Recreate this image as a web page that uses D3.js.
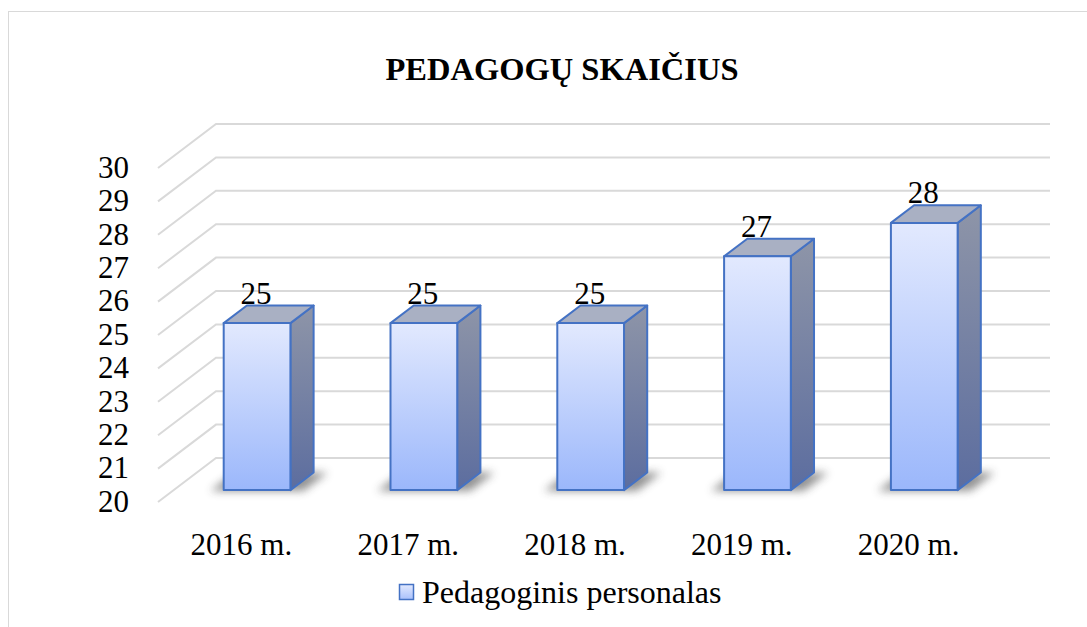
<!DOCTYPE html>
<html lang="lt">
<head>
  <meta charset="UTF-8">
  <title>Pedagogų skaičius</title>
  <style>
    body { margin: 0; background: #fff; }
  </style>
</head>
<body>
  <script src="https://cdnjs.cloudflare.com/ajax/libs/d3/7.8.5/d3.min.js"></script>
  <script>
    const title = "PEDAGOGŲ SKAIČIUS";
    const seriesName = "Pedagoginis personalas";
    const categories = ["2016 m.", "2017 m.", "2018 m.", "2019 m.", "2020 m."];
    const values = [25, 25, 25, 27, 28];
    const yTicks = [20, 21, 22, 23, 24, 25, 26, 27, 28, 29, 30];

    const width = 1087, height = 627;
    const svg = d3.select("body").append("svg")
      .attr("width", width)
      .attr("height", height)
      .attr("font-family", "'Liberation Serif', 'Times New Roman', Tinos, serif")
      .style("display", "block");

    // outer chart border (right/bottom fall outside the picture)
    svg.append("rect")
      .attr("x", 8.5).attr("y", 11.5)
      .attr("width", 1100).attr("height", 640)
      .attr("fill", "none").attr("stroke", "#d9d9d9");

    // front plane scales + oblique depth offset
    const x = d3.scaleBand().domain(categories).range([158, 992]);
    const y = d3.scaleLinear().domain([20, 30]).range([502, 168]);
    const depthX = 58, depthY = 44;
    const proj = (px, v, z) => [px + z * depthX, y(v) - z * depthY];

    const defs = svg.append("defs");
    const gFront = defs.append("linearGradient").attr("id", "gFront")
      .attr("x1", 0).attr("y1", 0).attr("x2", 0).attr("y2", 1);
    gFront.append("stop").attr("offset", "0%").attr("stop-color", "#e2e9fe");
    gFront.append("stop").attr("offset", "100%").attr("stop-color", "#9bb7fb");
    const gSide = defs.append("linearGradient").attr("id", "gSide")
      .attr("x1", 0).attr("y1", 0).attr("x2", 0).attr("y2", 1);
    gSide.append("stop").attr("offset", "0%").attr("stop-color", "#8e95a8");
    gSide.append("stop").attr("offset", "100%").attr("stop-color", "#5c6d9f");
    const gLegend = defs.append("linearGradient").attr("id", "gLegend")
      .attr("x1", 0).attr("y1", 0).attr("x2", 0).attr("y2", 1);
    gLegend.append("stop").attr("offset", "0%").attr("stop-color", "#e2e9fe");
    gLegend.append("stop").attr("offset", "100%").attr("stop-color", "#a9c0fb");
    defs.append("filter").attr("id", "blur")
      .attr("x", "-30%").attr("y", "-100%").attr("width", "160%").attr("height", "300%")
      .append("feGaussianBlur").attr("stdDeviation", 4);

    // title
    svg.append("text")
      .attr("x", 562).attr("y", 80)
      .attr("text-anchor", "middle")
      .attr("font-size", 32.5).attr("font-weight", "bold")
      .text(title);

    // gridlines: slanted side wall + back wall
    const grid = svg.append("g").attr("stroke", "#d9d9d9").attr("stroke-width", 2).attr("fill", "none");
    const x0 = x.range()[0], x1 = x.range()[1];
    grid.selectAll("path").data(yTicks).enter().append("path")
      .attr("d", t => {
        const a = proj(x0, t, 0), b = proj(x0, t, 1), c = proj(x1, t, 1);
        return `M${a}L${b}L${c}`;
      });

    // y axis labels
    svg.append("g").selectAll("text").data(yTicks).enter().append("text")
      .attr("x", 129).attr("y", t => y(t) - 1)
      .attr("dy", "0.35em")
      .attr("text-anchor", "end")
      .attr("font-size", 31)
      .text(t => t);

    const z0 = 0.27, z1 = 0.67;
    const bw = x.bandwidth() * 0.4;
    const poly = pts => "M" + pts.map(p => p.join(",")).join("L") + "Z";

    const bars = svg.append("g").selectAll("g").data(values).enter().append("g");

    // floor shadow
    bars.append("path")
      .attr("d", (v, i) => {
        const l = x(categories[i]) + x.bandwidth() / 2 - bw / 2 - 12, r = l + bw + 26;
        return poly([proj(l, 20, z0 - 0.02), proj(r, 20, z0 - 0.02), proj(r, 20, z1), proj(l, 20, z1)]);
      })
      .attr("fill", "#3a3a3a").attr("opacity", 0.55)
      .attr("filter", "url(#blur)");

    const edge = sel => sel.attr("stroke", "#4472c4").attr("stroke-width", 2).attr("stroke-linejoin", "round");

    // side face
    bars.append("path")
      .attr("d", (v, i) => {
        const r = x(categories[i]) + x.bandwidth() / 2 + bw / 2;
        return poly([proj(r, 20, z0), proj(r, v, z0), proj(r, v, z1), proj(r, 20, z1)]);
      })
      .attr("fill", "url(#gSide)").call(edge);

    // top face
    bars.append("path")
      .attr("d", (v, i) => {
        const l = x(categories[i]) + x.bandwidth() / 2 - bw / 2, r = l + bw;
        return poly([proj(l, v, z0), proj(r, v, z0), proj(r, v, z1), proj(l, v, z1)]);
      })
      .attr("fill", "#a9b0c3").call(edge);

    // front face
    bars.append("path")
      .attr("d", (v, i) => {
        const l = x(categories[i]) + x.bandwidth() / 2 - bw / 2, r = l + bw;
        return poly([proj(l, 20, z0), proj(r, 20, z0), proj(r, v, z0), proj(l, v, z0)]);
      })
      .attr("fill", "url(#gFront)").call(edge);

    // data labels
    bars.append("text")
      .attr("x", (v, i) => proj(x(categories[i]) + x.bandwidth() / 2, v, z0)[0] - 1)
      .attr("y", v => proj(0, v, z1)[1] - 2)
      .attr("text-anchor", "middle")
      .attr("font-size", 31)
      .text(v => v);

    // category labels
    svg.append("g").selectAll("text").data(categories).enter().append("text")
      .attr("x", c => x(c) + x.bandwidth() / 2)
      .attr("y", 555)
      .attr("text-anchor", "middle")
      .attr("font-size", 31)
      .text(c => c);

    // legend
    const legend = svg.append("g");
    legend.append("rect")
      .attr("x", 399.5).attr("y", 584.5).attr("width", 14).attr("height", 15)
      .attr("fill", "url(#gLegend)").attr("stroke", "#4472c4").attr("stroke-width", 1.5);
    legend.append("text")
      .attr("x", 422).attr("y", 603)
      .attr("font-size", 32)
      .text(seriesName);
  </script>
</body>
</html>
